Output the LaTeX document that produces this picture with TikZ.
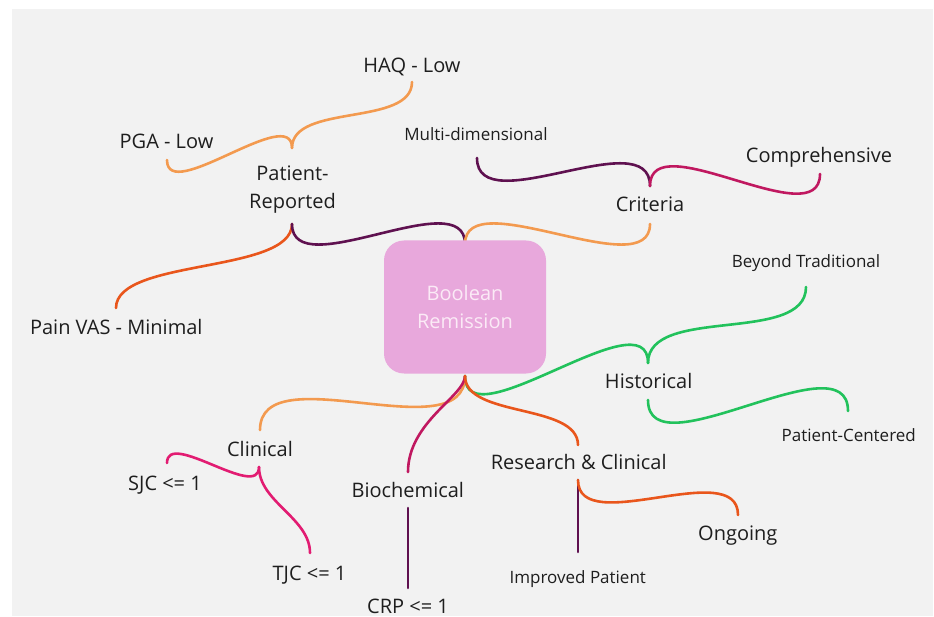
\documentclass[tikz,border=0pt]{standalone}
\usepackage{fontspec}
\setmainfont{Open Sans}
\definecolor{bg}{HTML}{F2F2F2}
\definecolor{lorange}{HTML}{F39A4F}
\definecolor{rorange}{HTML}{E9561C}
\definecolor{plum}{HTML}{5F1150}
\definecolor{crimson}{HTML}{C01860}
\definecolor{pinkc}{HTML}{E21C72}
\definecolor{grn}{HTML}{22C25C}
\definecolor{boxfill}{HTML}{E8A8DC}
\definecolor{boxtext}{HTML}{FBEAF6}
\definecolor{txt}{HTML}{1E1E1E}
\begin{document}
\begin{tikzpicture}[x=1pt,y=-1pt,
  big/.style={font=\fontsize{20}{28}\selectfont, text=txt, inner sep=0pt, anchor=base, align=center},
  small/.style={font=\fontsize{17}{22}\selectfont, text=txt, inner sep=0pt, anchor=base},
  link/.style={line width=2.6pt, line cap=round},
  rootbox/.style={fill=boxfill, rounded corners=20pt, minimum width=162pt, minimum height=133pt,
    text=boxtext, font=\fontsize{20}{28.5}\selectfont, align=center, inner sep=0pt},
]
\useasboundingbox (0,0) rectangle (934,617);
\fill[white] (0,0) rectangle (934,617);
\fill[bg] (12,9) rectangle (933,616);

% text nodes
\node[big] (haq) at (412,72.5) {HAQ - Low};
\node[big] (pga) at (166.5,148.3) {PGA - Low};
\node[big] (pr) at (292.5,208.3) {Patient-\\Reported};
\node[small] (md) at (476,140.7) {Multi-dimensional};
\node[big] (comp) at (819,162.7) {Comprehensive};
\node[big] (cr) at (650,211.7) {Criteria};
\node[small] (bt) at (806,267.3) {Beyond Traditional};
\node[big] (vas) at (116.3,335) {Pain VAS - Minimal};
\node[big] (hi) at (648.7,388.3) {Historical};
\node[small] (pc) at (848.7,441.7) {Patient-Centered};
\node[big] (cl) at (260,456) {Clinical};
\node[big] (sjc) at (165,490) {SJC <= 1};
\node[big] (rc) at (578.7,469) {Research \& Clinical};
\node[big] (bio) at (407.8,497.3) {Biochemical};
\node[big] (ong) at (737.8,540.7) {Ongoing};
\node[big] (tjc) at (309.5,580.7) {TJC <= 1};
\node[small] (ip) at (577.8,583.3) {Improved Patient};
\node[big] (crp) at (408,613.3) {CRP <= 1};

% junction / end points
\coordinate (prT) at (292,148);
\coordinate (pgaB) at (167,160);
\coordinate (haqB) at (412,82);
\coordinate (prB) at (292,224);
\coordinate (vasT) at (116,308);
\coordinate (boxT) at (465,244);
\coordinate (crT) at (650,186);
\coordinate (mdB) at (477,158);
\coordinate (compB) at (820,174);
\coordinate (crB) at (650,224);
\coordinate (hiT) at (648,363);
\coordinate (btB) at (806,287);
\coordinate (hiB) at (648,400);
\coordinate (pcT) at (848,411);
\coordinate (boxB) at (465,376);
\coordinate (clT) at (260,430);
\coordinate (bioT) at (408,472);
\coordinate (rcT) at (578,445);
\coordinate (clB) at (259,467);
\coordinate (sjcT) at (167,463);
\coordinate (tjcT) at (310,553);
\coordinate (bioB) at (408,508);
\coordinate (crpT) at (408,588);
\coordinate (rcB) at (578,480);
\coordinate (ipT) at (578,552);
\coordinate (ongT) at (738,515);

% connectors
\draw[link, lorange] (prT) .. controls +(0,-45) and +(0,45) .. (pgaB);
\draw[link, lorange] (prT) .. controls +(0,-45) and +(0,45) .. (haqB);
\draw[link, rorange] (prB) .. controls +(0,50) and +(0,-50) .. (vasT);
\draw[link, plum] (prB) .. controls +(0,62) and +(0,-62) .. (boxT);
\draw[link, lorange] (crB) .. controls +(0,62) and +(0,-62) .. (boxT);
\draw[link, plum] (crT) .. controls +(0,-65) and +(0,65) .. (mdB);
\draw[link, crimson] (crT) .. controls +(0,-63) and +(0,63) .. (compB);
\draw[link, grn] (hiT) .. controls +(0,-68) and +(0,68) .. (boxB);
\draw[link, grn] (hiT) .. controls +(0,-58) and +(0,58) .. (btB);
\draw[link, grn] (hiB) .. controls +(0,74) and +(0,-74) .. (pcT);
\draw[link, lorange] (boxB) .. controls +(0,76) and +(0,-76) .. (clT);
\draw[link, crimson] (boxB) .. controls +(0,20) and +(0,-50) .. (bioT);
\draw[link, rorange] (boxB) .. controls +(0,42) and +(0,-42) .. (rcT);
\draw[link, pinkc] (clB) .. controls +(0,34) and +(0,-34) .. (sjcT);
\draw[link, pinkc] (clB) .. controls +(0,35) and +(0,-35) .. (tjcT);
\draw[link, plum] (bioB) -- (crpT);
\draw[link, plum] (rcB) -- (ipT);
\draw[link, rorange] (rcB) .. controls +(0,59) and +(0,-59) .. (ongT);

% root
\node[rootbox] (box) at (465,307) {Boolean\\Remission};
\end{tikzpicture}
\end{document}
